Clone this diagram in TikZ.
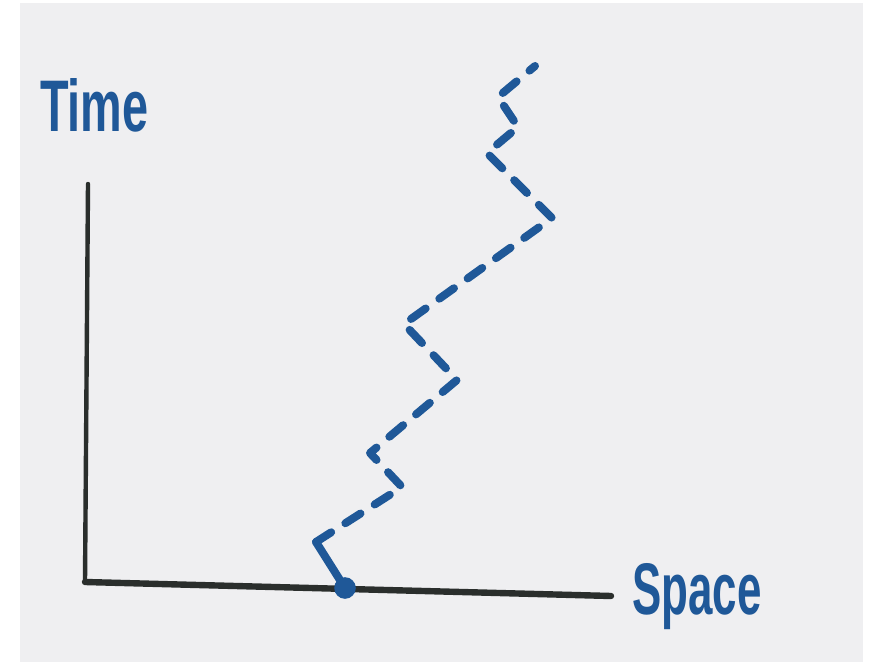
\documentclass[tikz,border=0pt]{standalone}
\usepackage{fontspec}
\setmainfont{Liberation Sans}
\usepackage{tikz}
\usetikzlibrary{positioning}
\definecolor{inkblue}{RGB}{31,88,152}
\definecolor{inkgray}{RGB}{42,46,44}
\definecolor{paper}{RGB}{239,239,241}
\tikzset{
  axis-line/.style={draw=inkgray, line cap=round},
  world-line/.style={draw=inkblue, line width=0.2cm, line cap=round, line join=round},
  world-dash/.style={world-line, dash pattern=on 0.45cm off 0.42cm},
  axis-label/.style={text=inkblue, font=\bfseries\fontsize{52}{60}\selectfont, inner sep=0pt}
}
\begin{document}
\begin{tikzpicture}[x=0.025cm, y=-0.025cm]
  \useasboundingbox (0,0) rectangle (876,662);
  \fill[white] (0,0) rectangle (876,662);
  \fill[paper] (20,3) rectangle (863,662);
  % axes
  \coordinate (origin) at (85,582);
  \coordinate (ttop) at (88,184);
  \coordinate (send) at (611,596);
  \draw[axis-line, line width=1.1mm] (ttop) -- (origin);
  \draw[axis-line, line width=1.6mm] (origin) -- (send);
  \node[axis-label, xscale=0.64, anchor=base west] (timelabel) at (40,132) {Time};
  \node[axis-label, xscale=0.6, anchor=base west] (spacelabel) at (632,614) {Space};
  % world line
  \coordinate (event) at (345,588);
  \coordinate (w1) at (316,542);
  \coordinate (w2) at (402,487);
  \coordinate (w3) at (370,453);
  \coordinate (w4) at (457,380);
  \coordinate (w5) at (404,324);
  \coordinate (w6) at (552,218);
  \coordinate (w7) at (487,153);
  \coordinate (w8) at (518,127);
  \coordinate (w9) at (498,97);
  \coordinate (w10) at (535,66);
  \draw[world-line] (event) -- (w1);
  \draw[world-dash] (w1) -- (w2) -- (w3) -- (w4) -- (w5) -- (w6) -- (w7) -- (w8) -- (w9) -- (w10);
  \fill[inkblue] (event) circle (0.27cm);
\end{tikzpicture}
\end{document}
